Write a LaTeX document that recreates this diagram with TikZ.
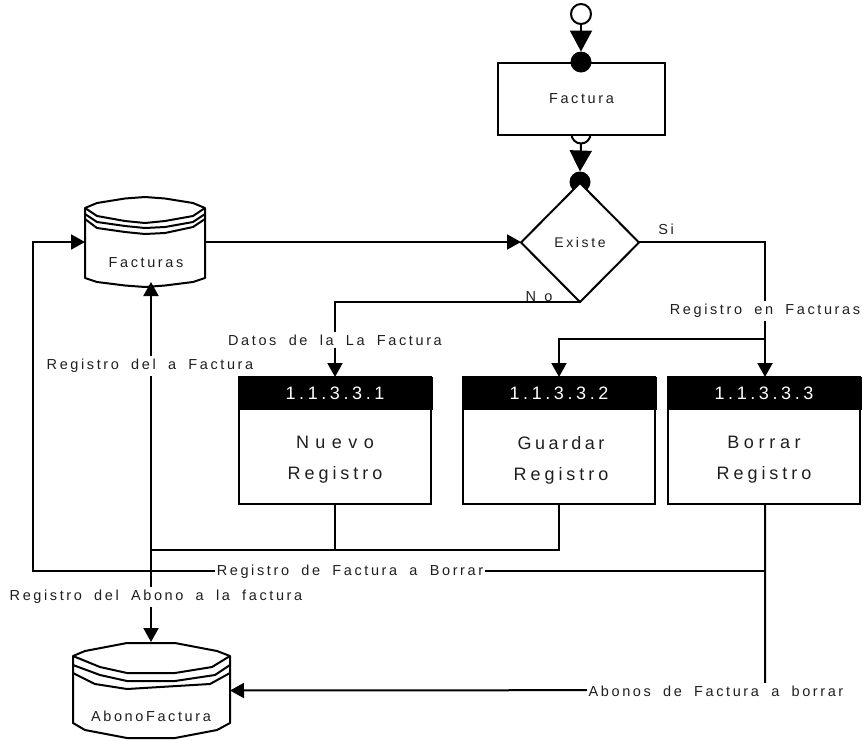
\documentclass[tikz,border=0pt]{standalone}
\usepackage{fontspec}
\setmainfont{Liberation Sans}
\newfontfamily\lsa[LetterSpace=18,WordSpace=1.85]{Liberation Sans}
\newfontfamily\lsb[LetterSpace=20]{Liberation Sans}
\newfontfamily\lsc[LetterSpace=22]{Liberation Sans}
\newfontfamily\lsd[LetterSpace=36]{Liberation Sans}
\newfontfamily\lse[LetterSpace=26]{Liberation Sans}
\newfontfamily\lsf[LetterSpace=19]{Liberation Sans}
\newfontfamily\lsg[LetterSpace=58]{Liberation Sans}
\usetikzlibrary{arrows.meta,shapes.geometric}
\tikzset{
  conn/.style={draw=black,line width=2pt},
  arr/.style={conn,-{Triangle[length=14pt,width=15pt]}},
  bigarr/.style={conn,-{Triangle[length=21pt,width=22pt]}},
  lab/.style={font=\fontsize{14.5}{16}\selectfont\lsa,text=black!88,inner sep=1pt,outer sep=0pt},
  wlab/.style={lab,fill=white,inner xsep=2pt,inner ysep=3pt},
  anchorbox/.style={rectangle,inner sep=0pt,outer sep=0pt,minimum width=#1},
  procbox/.style={draw=black,line width=2pt,rectangle,inner sep=0pt,outer sep=0pt,minimum width=192pt,minimum height=127pt,fill=white},
  headbox/.style={fill=black,draw=black,line width=0pt,rectangle,inner sep=0pt,outer sep=0pt,minimum width=194pt,minimum height=32pt,text=white,font=\fontsize{18}{20}\selectfont\lsb},
  bodytext/.style={font=\fontsize{18}{30}\selectfont,text=black!88,align=center,inner sep=0pt},
  dot/.style={circle,fill=black,draw=none,inner sep=0pt,outer sep=0pt,minimum size=21pt},
  hollow/.style={circle,fill=white,draw=black,line width=2pt,inner sep=0pt,outer sep=0pt,minimum size=20pt},
  dbline/.style={draw=black,line width=2pt,line join=round},
}
\begin{document}
\begin{tikzpicture}[x=1pt,y=-1pt]
\useasboundingbox (0,0) rectangle (863,740);
% Facturas store
\draw[dbline,fill=white] (85,208) -- (97,203) -- (125,198.5) -- (145,197) -- (165,198.5) -- (193,203) -- (205,208)
  -- (205,278) -- (193,282) -- (165,285.5) -- (145,287) -- (125,285.5) -- (97,282) -- (85,278) -- cycle;
\draw[dbline] (85,208) -- (97,216) -- (125,221) -- (145,223) -- (165,221) -- (193,216) -- (205,208);
\draw[dbline] (85,214) -- (97,222) -- (125,226) -- (145,228) -- (165,227) -- (193,222) -- (205,214);
\draw[dbline] (85,219) -- (97,228) -- (125,232) -- (145,234) -- (165,233) -- (193,227) -- (205,219);
\node[anchorbox=120pt,minimum height=90pt] (facturas) at (145,242) {};
\node[lab] (facturastxt) at (146,262.5) {Facturas};
% AbonoFactura store
\draw[dbline,fill=white] (73,656) -- (85,651) -- (127,643) -- (175,643) -- (217,651) -- (230,656)
  -- (230,723) -- (217,730) -- (175,738) -- (127,738) -- (85,730) -- (73,723) -- cycle;
\draw[dbline] (73,656) -- (100,667) -- (127,673) -- (175,673) -- (212,667) -- (230,656);
\draw[dbline] (73,665) -- (100,675) -- (127,681) -- (175,681) -- (215,675) -- (230,665);
\draw[dbline] (73,673) -- (95,684) -- (127,689) -- (210,684) -- (230,673);
\node[anchorbox=157pt,minimum height=95pt] (abono) at (151.5,690.5) {};
\node[lab] (abonotxt) at (151,716) {AbonoFactura};
% Factura box
\node[hollow,minimum size=19pt] (factout) at (581,134) {};
\node[draw=black,line width=2pt,fill=white,minimum width=167pt,minimum height=72pt,inner sep=0pt,outer sep=0pt,
  font=\fontsize{14.5}{16}\selectfont\lsa,text=black!88] (factura) at (581.5,99) {Factura};
\node[hollow] (start) at (581,14) {};
\node[dot] (indot) at (581,62) {};
\node[dot] (dinDot) at (580,182) {};
\node[diamond,aspect=1,draw=black,fill=white,line width=2pt,minimum width=118pt,minimum height=119pt,inner sep=0pt,outer sep=0pt,
  font=\fontsize{14}{16}\selectfont\lsf,text=black!88] (existe) at (580,242.5) {Existe};
% process boxes
\node[procbox] (p1) at (335,440.5) {};
\node[headbox] at (335,393) (h1) {1.1.3.3.1};
\node[bodytext] (t1) at (335,460) {{\lsd Nuevo}\\[1pt]{\lsc Registro}};
\node[procbox] (p2) at (559,440.5) {};
\node[headbox] at (559,393) (h2) {1.1.3.3.2};
\node[bodytext] (t2) at (561,460) {{\lsf Guardar}\\[1pt]{\lsc Registro}};
\node[procbox] (p3) at (764,440.5) {};
\node[headbox] at (764,393) (h3) {1.1.3.3.3};
\node[bodytext] (t3) at (764,460) {{\lse Borrar}\\[1pt]{\lsc Registro}};
% routing coordinates
\coordinate (sibend) at (765,242);
\coordinate (branch) at (765,339);
\coordinate (br2) at (559,339);
\coordinate (nobend) at (335,302);
\coordinate (merge) at (335,550);
\coordinate (mergeL) at (151,550);
\coordinate (fbot) at (151,282);
\coordinate (atop) at (151,642);
\coordinate (delL) at (33,571);
\coordinate (delT) at (33,242);
\coordinate (delR) at (765,571);
\coordinate (abR) at (765,690);
% connectors
\draw[bigarr] (start.south) -- (indot.north);
\draw[bigarr] (factout.south) -- (dinDot.north);
\draw[arr] (facturas.east) -- (existe.west |- facturas.east);
\draw[arr] (existe.east |- sibend) -- (sibend) -- (p3.north -| sibend);
\draw[arr] (branch) -- (br2) -- (h2.north);
\draw[arr] (existe.south |- nobend) -- (nobend) -- (h1.north);
\draw[conn] (p1.south) -- (merge) -- (mergeL);
\draw[conn] (p2.south) |- (merge);
\draw[arr] (mergeL) -- (fbot);
\draw[arr] (mergeL) -- (atop);
\draw[arr] (delR) -- (delL) -- (delT) -- (facturas.west);
\draw[arr] (p3.south -| abR) -- (abR) -- (abono.east);
% labels
\node[lab] (si) at (666,229) {Si};
\node[lab,font=\fontsize{14.5}{16}\selectfont\lsg] (no) at (539,296.5) {No};
\node[wlab] (l1) at (765,311) {Registro en Facturas};
\node[wlab] (l2) at (335,340) {Datos de la La Factura};
\node[wlab] (l3) at (150,366) {Registro del a Factura};
\node[wlab] (l4) at (350,572) {Registro de Factura a Borrar};
\node[wlab] (l5) at (156,597) {Registro del Abono a la factura};
\node[wlab] (l6) at (716,691) {Abonos de Factura a borrar};
\end{tikzpicture}
\end{document}
